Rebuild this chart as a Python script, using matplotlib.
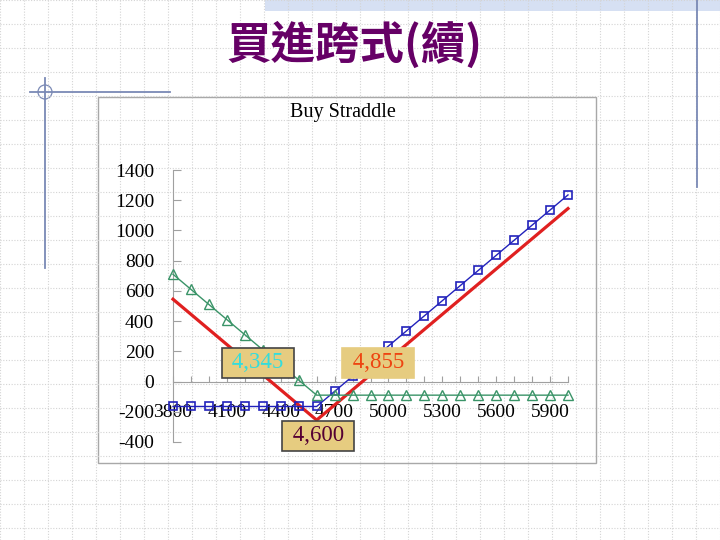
import matplotlib.pyplot as plt
from matplotlib.patches import Rectangle, Circle
from matplotlib.lines import Line2D

plt.rcParams['axes.unicode_minus'] = False

# Buy straddle: long call + long put, strike 4600
prices = [3800, 3900, 4000, 4100, 4200, 4300, 4400, 4500, 4600, 4700, 4800, 4900,
          5000, 5100, 5200, 5300, 5400, 5500, 5600, 5700, 5800, 5900, 6000]
call_pl = [-165, -165, -165, -165, -165, -165, -165, -165, -165, -65, 35, 135,
           235, 335, 435, 535, 635, 735, 835, 935, 1035, 1135, 1235]
put_pl = [710, 610, 510, 410, 310, 210, 110, 10, -90, -90, -90, -90,
          -90, -90, -90, -90, -90, -90, -90, -90, -90, -90, -90]
straddle_pl = [545, 445, 345, 245, 145, 45, -55, -155, -255, -155, -55, 45,
               145, 245, 345, 445, 545, 645, 745, 845, 945, 1045, 1145]
xtick_labels = ['3800', '', '', '4100', '', '', '4400', '', '', '4700', '', '',
                '5000', '', '', '5300', '', '', '5600', '', '', '5900', '']
yticks = [-400, -200, 0, 200, 400, 600, 800, 1000, 1200, 1400]

# break-even / strike labels
notes = ['4,345', '4,855', '4,600']
note_x = [4273, 4942, 4608]
note_y = [123, 123, -360]
note_colors = ['#33dddd', '#ee4411', '#550033']
note_edges = ['#444444', '#e6cc80', '#444444']

W, H = 720, 540
fig = plt.figure(figsize=(7.2, 5.4), dpi=100)

# slide background (pixel coordinates)
bg = fig.add_axes([0, 0, 1, 1])
bg.set_xlim(0, W)
bg.set_ylim(H, 0)
bg.axis('off')
for gx in range(0, W + 1, 24):
    bg.add_line(Line2D([gx, gx], [0, H], color='#d4d4d4', lw=0.8, ls=(0, (1, 1.5))))
for gy in range(0, H + 1, 24):
    bg.add_line(Line2D([0, W], [gy, gy], color='#d4d4d4', lw=0.8, ls=(0, (1, 1.5))))
bg.add_patch(Rectangle((265, 0), W - 265, 11, facecolor='#d6e0f3', edgecolor='none'))
deco = '#7a89b5'
bg.add_line(Line2D([30, 170], [92, 92], color=deco, lw=1.3))
bg.add_line(Line2D([45, 45], [78, 268], color=deco, lw=1.3))
bg.add_patch(Circle((45, 92), 7, facecolor='none', edgecolor=deco, lw=0.9))
bg.add_line(Line2D([697, 697], [0, 187], color=deco, lw=1.3))
bg.add_patch(Rectangle((98, 97), 498, 366, facecolor='white', edgecolor='#a8a8a8', lw=1))
bg.text(354, 45, '買進跨式(續)', ha='center', va='center', fontsize=32,
        fontweight='heavy', color='#660066', family=['Noto Sans CJK TC', 'DejaVu Sans'])
bg.text(343, 113, 'Buy Straddle', ha='center', va='center', fontsize=14.5,
        family='Liberation Serif')

# chart
ax = fig.add_axes([173 / W, 1 - 442 / H, 395 / W, 272 / H])
ax.patch.set_alpha(0)
ax.plot(prices, straddle_pl, color='#e02020', lw=2.3, zorder=3, clip_on=False)
ax.plot(prices, call_pl, color='#2222bb', lw=1, marker='s', ms=6,
        mfc='none', mec='#2222bb', mew=1.2, zorder=4, clip_on=False)
ax.plot(prices, put_pl, color='#3a9468', lw=1, marker='^', ms=7,
        mfc='none', mec='#3a9468', mew=1, zorder=4, clip_on=False)

ax.set_xlim(3800, 6000)
ax.set_ylim(-400, 1400)
for s in ['top', 'right']:
    ax.spines[s].set_visible(False)
ax.spines['bottom'].set_position(('data', 0))
ax.spines['left'].set_color('#a0a0a0')
ax.spines['bottom'].set_color('#a0a0a0')
ax.set_xticks(prices)
ax.set_xticklabels(xtick_labels)
ax.set_yticks(yticks)
ax.tick_params(axis='y', direction='in', length=6, color='#a0a0a0', pad=13.5,
               labelsize=14, labelfontfamily='Liberation Serif')
ax.tick_params(axis='x', direction='in', length=4, color='#a0a0a0', pad=16,
               labelsize=14, labelfontfamily='Liberation Serif')

for t, x, y, c, e in zip(notes, note_x, note_y, note_colors, note_edges):
    ax.text(x, y, ' ' + t + ' ', ha='center', va='center', fontsize=16.5, color=c,
            family='Liberation Serif', zorder=6,
            bbox=dict(boxstyle='square,pad=0.2', facecolor='#e6cc80', edgecolor=e, lw=1.2))

fig.savefig('out.png', dpi=100)
